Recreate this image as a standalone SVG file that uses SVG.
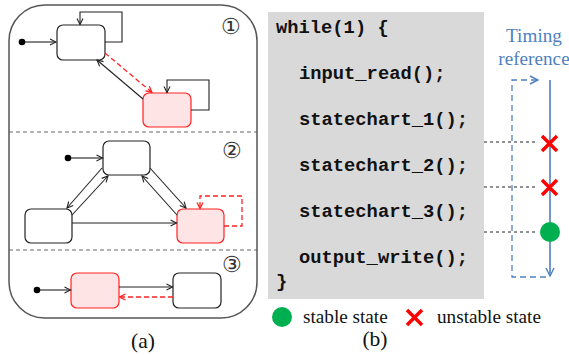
<svg xmlns="http://www.w3.org/2000/svg" width="569" height="355" viewBox="0 0 569 355">
<style>
.st{fill:#fff;stroke:#222;stroke-width:1.2}
.rs{fill:#fee4e4;stroke:#f22;stroke-width:1.2}
.ln{fill:none;stroke:#222;stroke-width:1.1}
.rd{fill:none;stroke:#f22;stroke-width:1.3;stroke-dasharray:5,3}
.sep{stroke:#666;stroke-width:1.2;stroke-dasharray:4,3}
.code{font-family:"Liberation Mono","Courier New",monospace;font-weight:bold;font-size:18.8px;fill:#111;white-space:pre}
.serif{font-family:"Liberation Serif","Times New Roman",serif;font-size:19.2px;fill:#111}
.lbl{font-family:"Liberation Serif","Times New Roman",serif;font-size:21.5px;fill:#111}
.num{font-family:"DejaVu Sans",sans-serif;font-weight:200;font-size:22px;fill:#333}
.bl{fill:none;stroke:#4f81bd;stroke-width:1.6}
.bld{fill:none;stroke:#4f81bd;stroke-width:1.3;stroke-dasharray:6,4}
.blk{stroke:#222;stroke-width:1;stroke-dasharray:3,3}
.x{stroke:#f00;stroke-width:3.5;stroke-linecap:butt}
</style>
<defs>
<marker id="ab" markerWidth="8" markerHeight="8" refX="7" refY="4" orient="auto" markerUnits="userSpaceOnUse"><path d="M1,1 L7,4 L1,7" fill="none" stroke="#222" stroke-width="1.1"/></marker>
<marker id="ar" markerWidth="8" markerHeight="8" refX="7" refY="4" orient="auto" markerUnits="userSpaceOnUse"><path d="M1,1 L7,4 L1,7" fill="none" stroke="#f22" stroke-width="1.3"/></marker>
<marker id="abl" markerWidth="10" markerHeight="10" refX="9" refY="5" orient="auto" markerUnits="userSpaceOnUse"><path d="M1,1 L9,5 L1,9" fill="none" stroke="#4f81bd" stroke-width="1.4"/></marker>
</defs>

<!-- (a) -->
<g id="frame">
<rect x="9" y="5" width="248" height="313" rx="36" ry="36" fill="#fff" stroke="#555" stroke-width="1.5"/>
<line class="sep" x1="9" y1="132" x2="257" y2="132"/>
<line class="sep" x1="9" y1="250" x2="257" y2="250"/>
<text class="num" x="231" y="34" text-anchor="middle">①</text>
<text class="num" x="232" y="158" text-anchor="middle">②</text>
<text class="num" x="232" y="272" text-anchor="middle">③</text>
</g>

<g id="s1-init"><circle cx="22" cy="42" r="3.3" fill="#000"/></g>
<g id="s1-a"><rect class="st" x="57" y="25" width="48" height="35" rx="6"/></g>
<g id="s1-b"><rect class="rs" x="143" y="93" width="48" height="34" rx="6"/></g>

<g id="s2-init"><circle cx="68" cy="158" r="3.3" fill="#000"/></g>
<g id="s2-c"><rect class="st" x="103" y="141" width="47" height="34" rx="6"/></g>
<g id="s2-d"><rect class="st" x="25" y="209" width="47" height="34" rx="6"/></g>
<g id="s2-e"><rect class="rs" x="177" y="209" width="47" height="34" rx="6"/></g>

<g id="s3-init"><circle cx="37" cy="290" r="3.3" fill="#000"/></g>
<g id="s3-f"><rect class="rs" x="71" y="273" width="48" height="35" rx="6"/></g>
<g id="s3-g"><rect class="st" x="173" y="273" width="48" height="35" rx="6"/></g>

<g id="connectors">
<line class="ln" x1="25" y1="42" x2="56" y2="42" marker-end="url(#ab)"/>
<path class="ln" d="M105,42 H122 V12 H80 V24.5" marker-end="url(#ab)"/>
<path class="ln" d="M191,110 H209 V80 H167 V92.5" marker-end="url(#ab)"/>
<line class="ln" x1="143" y1="99" x2="97" y2="60" marker-end="url(#ab)"/>
<line class="rd" x1="105" y1="53" x2="152" y2="92.5" marker-end="url(#ar)"/>

<line class="ln" x1="71" y1="158" x2="102.5" y2="158" marker-end="url(#ab)"/>
<line class="ln" x1="102" y1="168" x2="67" y2="208" marker-end="url(#ab)"/>
<line class="ln" x1="72" y1="215" x2="108" y2="176" marker-end="url(#ab)"/>
<line class="ln" x1="150" y1="168" x2="186" y2="208" marker-end="url(#ab)"/>
<line class="ln" x1="177" y1="215" x2="142" y2="176" marker-end="url(#ab)"/>
<line class="ln" x1="72" y1="223" x2="176.5" y2="223" marker-end="url(#ab)"/>
<path class="rd" d="M224,226 H242 V196 H200 V208.5" marker-end="url(#ar)"/>

<line class="ln" x1="40" y1="290" x2="70.5" y2="290" marker-end="url(#ab)"/>
<line class="ln" x1="119" y1="287" x2="172.5" y2="287" marker-end="url(#ab)"/>
<line class="rd" x1="173" y1="297" x2="119.5" y2="297" marker-end="url(#ar)"/>
</g>

<text class="lbl" x="143" y="348" text-anchor="middle">(a)</text>

<!-- (b) -->
<g id="code">
<rect x="268" y="12" width="216" height="287" fill="#d9d9d9"/>
<text class="code" x="276" y="33">while(1) {</text>
<text class="code" x="299" y="79">input_read();</text>
<text class="code" x="299" y="125">statechart_1();</text>
<text class="code" x="299" y="171">statechart_2();</text>
<text class="code" x="299" y="217">statechart_3();</text>
<text class="code" x="299" y="263">output_write();</text>
<text class="code" x="276" y="287">}</text>
</g>

<g id="timing">
<text class="serif" x="534" y="42" text-anchor="middle" style="fill:#4f81bd">Timing</text>
<text class="serif" x="534" y="65" text-anchor="middle" style="fill:#4f81bd">reference</text>
<line class="bl" x1="550" y1="80" x2="550" y2="276" marker-end="url(#abl)"/>
<path class="bld" d="M546,277 H512 V80 H538" marker-end="url(#abl)"/>
<line class="blk" x1="484" y1="142" x2="538" y2="142"/>
<line class="blk" x1="484" y1="187" x2="538" y2="187"/>
<line class="blk" x1="484" y1="232" x2="538" y2="232"/>
<path class="x" d="M542,136 L557,151 M557,136 L542,151"/>
<path class="x" d="M542,180 L557,195 M557,180 L542,195"/>
<circle cx="550" cy="232" r="10" fill="#00b050"/>
</g>

<g id="legend">
<circle cx="282" cy="317" r="10" fill="#00b050"/>
<text class="serif" x="303" y="323">stable state</text>
<path class="x" d="M407,310 L422,325 M422,310 L407,325"/>
<text class="serif" x="437" y="323">unstable state</text>
</g>
<text class="lbl" x="375" y="346" text-anchor="middle">(b)</text>
</svg>
